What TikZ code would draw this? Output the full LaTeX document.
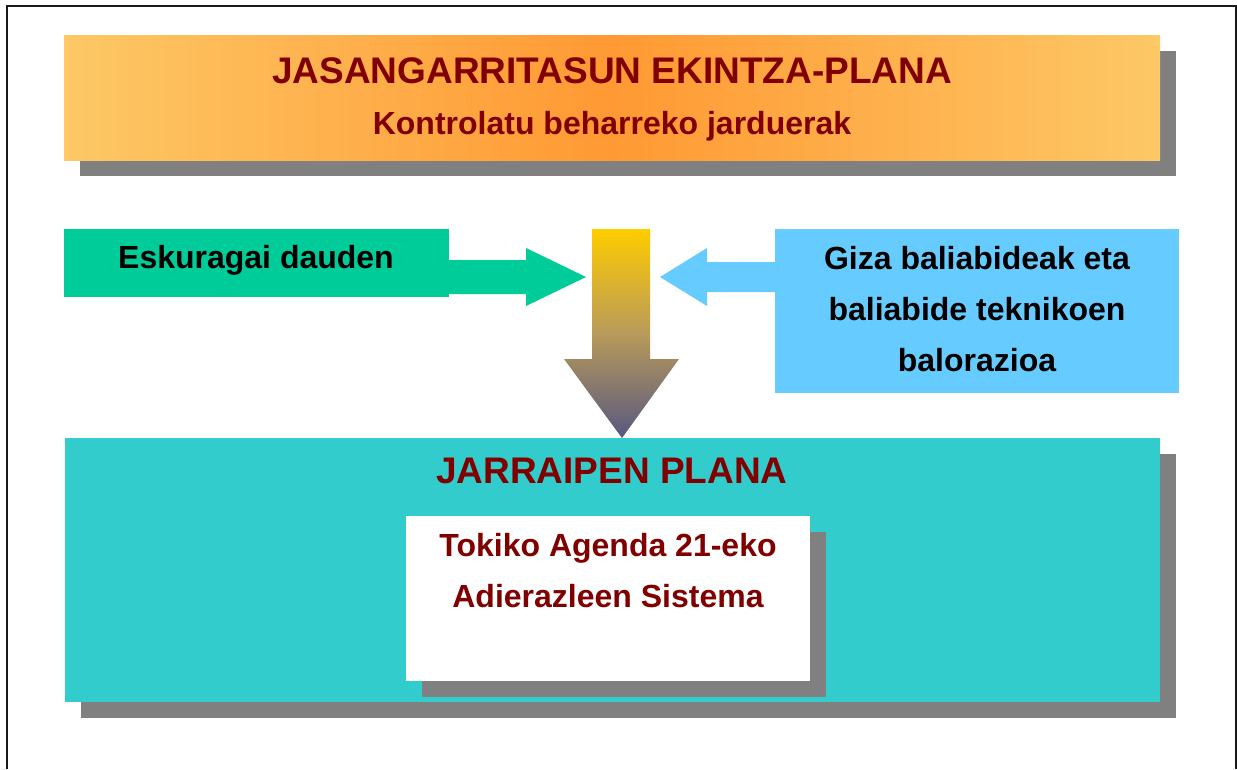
\documentclass[tikz,border=0pt]{standalone}
\usepackage{fontspec}
\setmainfont{Liberation Sans}
\usetikzlibrary{shadows}
\definecolor{darkred}{HTML}{800000}
\definecolor{orangeedge}{HTML}{FDC866}
\definecolor{orangemid}{HTML}{FF9933}
\definecolor{tealbox}{HTML}{33CCCC}
\definecolor{bluebox}{HTML}{66CCFF}
\definecolor{greenbox}{HTML}{00CC99}
\definecolor{shadowgray}{HTML}{808080}
\definecolor{arrowtop}{HTML}{FFCC00}
\definecolor{arrowmid}{HTML}{B89A5A}
\definecolor{arrowbottom}{HTML}{585880}
\tikzset{
  boxshadow/.style={general shadow={fill=shadowgray, shadow xshift=16pt, shadow yshift=-16pt}},
  plainbox/.style={inner sep=0pt, outer sep=0pt, anchor=north west},
  bigtext/.style={font=\fontsize{37}{44}\selectfont\bfseries, text=darkred},
  midtext/.style={font=\fontsize{32}{51}\selectfont\bfseries},
}
\begin{document}
\begin{tikzpicture}[x=1pt,y=-1pt]
\useasboundingbox (0,0) rectangle (1237,769);
\fill[white] (0,0) rectangle (1237,769);
% frame
\draw[line width=2pt, black!90] (7,769) -- (7,6) -- (1235.5,6) -- (1235.5,769);

% top box
\node[plainbox, boxshadow, minimum width=1096pt, minimum height=125pt,
      left color=orangeedge, right color=orangeedge, middle color=orangemid] (top) at (64,35) {};
\node[bigtext] (toptitle) at (612,71) {JASANGARRITASUN EKINTZA-PLANA};
\node[midtext, text=darkred] (topsub) at (612,126) {Kontrolatu beharreko jarduerak};

% green box
\node[plainbox, fill=greenbox, minimum width=385pt, minimum height=68pt] (green) at (64,229) {};
\node[midtext, text=black] (greentext) at (256,260) {Eskuragai dauden};

% blue box
\node[plainbox, fill=bluebox, minimum width=404pt, minimum height=164pt] (blue) at (775,229) {};
\node[midtext, text=black, align=center] (bluetext) at (977,309) {Giza baliabideak eta\\baliabide teknikoen\\balorazioa};

% green arrow
\fill[greenbox] (green.east |- 0,260) -- (526,260) -- (526,248) -- (586,277) -- (526,306) -- (526,294) -- (green.east |- 0,294) -- cycle;
% blue arrow
\fill[bluebox] (blue.west |- 0,262) -- (707,262) -- (707,248) -- (660,277) -- (707,306) -- (707,292) -- (blue.west |- 0,292) -- cycle;

% bottom box
\node[plainbox, boxshadow, fill=tealbox, minimum width=1095pt, minimum height=264pt] (bottom) at (65,438) {};
\node[bigtext] (bottomtitle) at (612,471) {JARRAIPEN PLANA};

% white box
\node[plainbox, boxshadow, fill=white, minimum width=404pt, minimum height=165pt] (white) at (406,516) {};
\node[midtext, text=darkred, align=center] (whitetext) at (608,571) {Tokiko Agenda 21-eko\\Adierazleen Sistema};

% vertical gradient arrow
\shade[top color=arrowtop, bottom color=arrowbottom, middle color=arrowmid]
  (592,229) -- (650,229) -- (650,359) -- (679,359) -- (622,438) -- (564,359) -- (592,359) -- cycle;
\end{tikzpicture}
\end{document}
